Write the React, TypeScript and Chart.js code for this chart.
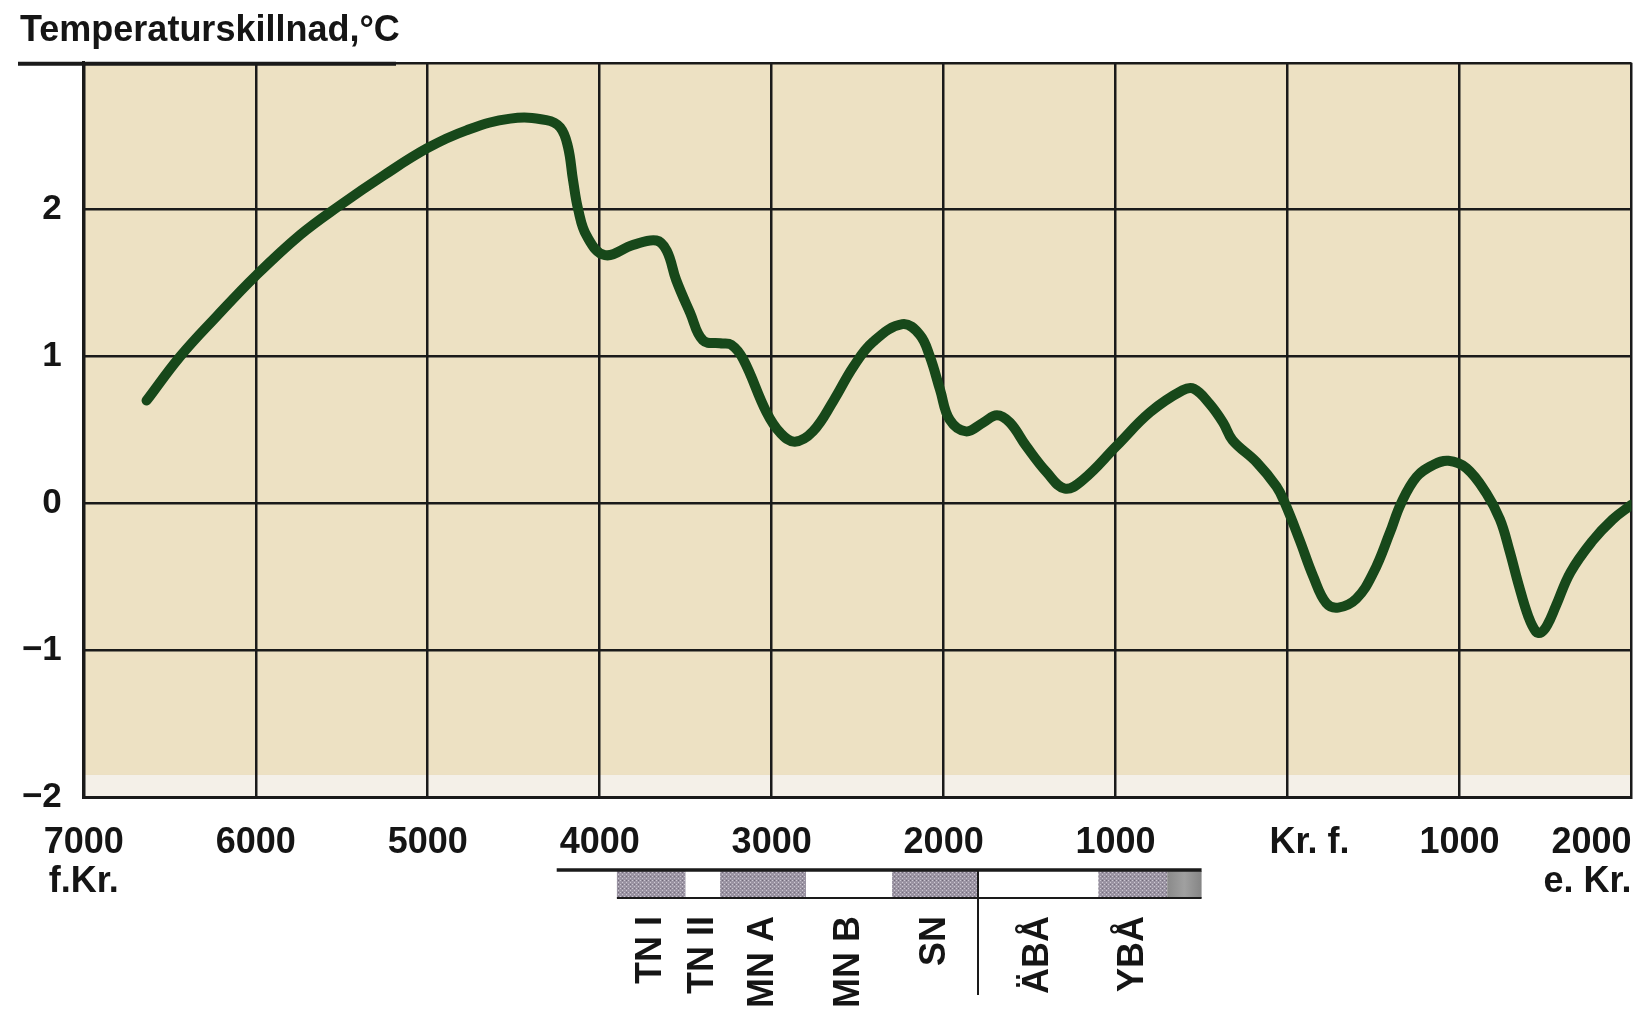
import React, { useEffect, useRef } from 'react';
import { Chart, registerables } from 'chart.js';

Chart.register(...registerables);

// ---------- data ----------
const years = [
  -6635, -6440, -6230, -6000, -5740, -5510, -5260, -5000, -4775, -4520, -4310, -4230, -4185, -4155, -4125,
  -4075, -3970, -3805, -3670, -3610, -3555, -3475, -3400, -3300, -3235, -3165, -3030, -2950, -2865, -2760,
  -2640, -2525, -2410, -2240, -2140, -2080, -2020, -1965, -1870, -1770, -1690, -1615, -1520, -1400, -1295,
  -1190, -995, -800, -610, -545, -455, -375, -320, -180, -65, -15, 70, 150, 225, 295,
  400, 500, 595, 660, 750, 845, 935, 1040, 1155, 1235, 1290, 1345, 1400, 1445, 1475,
  1510, 1560, 1645, 1770, 1890, 2000,
];
const temps = [
  0.70, 1.00, 1.27, 1.55, 1.83, 2.03, 2.23, 2.42, 2.54, 2.62, 2.61, 2.56, 2.43, 2.20, 2.00,
  1.82, 1.69, 1.76, 1.79, 1.72, 1.52, 1.30, 1.11, 1.09, 1.08, 0.98, 0.62, 0.48, 0.42, 0.49,
  0.70, 0.93, 1.10, 1.22, 1.15, 1.00, 0.77, 0.57, 0.49, 0.55, 0.60, 0.55, 0.39, 0.21, 0.10,
  0.16, 0.39, 0.62, 0.77, 0.78, 0.68, 0.55, 0.43, 0.28, 0.115, 0.00, -0.25, -0.50, -0.68, -0.71,
  -0.65, -0.47, -0.20, 0.00, 0.18, 0.26, 0.29, 0.24, 0.07, -0.11, -0.32, -0.56, -0.77, -0.875, -0.88,
  -0.83, -0.70, -0.47, -0.26, -0.11, -0.01,
];

const xTickValues = [-7000, -6000, -5000, -4000, -3000, -2000, -1000, 0, 1000, 2000];
const xTickLabels = ['7000', '6000', '5000', '4000', '3000', '2000', '1000', 'Kr. f.', '1000', '2000'];
const xTickSubLabels = ['f.Kr.', '', '', '', '', '', '', '', '', 'e. Kr.'];
const yTickValues = [-2, -1, 0, 1, 2, 3];
const yTickLabels = ['−2', '−1', '0', '1', '2', ''];
const titleText = 'Temperaturskillnad,°C';

const periodNames = ['TN I', 'TN II', 'MN A', 'MN B', 'SN', 'ÄBÅ', 'YBÅ'];
const periodStarts = [-3900, -3500, -3300, -2800, -2300, -1800, -1100];
const periodEnds = [-3500, -3300, -2800, -2300, -1800, -1100, -700];
const periodShaded = [true, false, true, false, true, false, true];
const periodLineStart = -4250;
const periodTailStart = -700;
const periodTailEnd = -500;
const periodDivider = -1800;

// ---------- styles ----------
const FONT = '"Liberation Sans", Arial, Helvetica, sans-serif';
const BG = '#EDE1C3';
const GRID = '#1a1a1a';
const LINE = '#17481a';
const TEXT = '#151515';

function makePattern(ctx: CanvasRenderingContext2D) {
  const c = document.createElement('canvas');
  c.width = 4;
  c.height = 4;
  const p = c.getContext('2d')!;
  p.fillStyle = '#9a93a2';
  p.fillRect(0, 0, 4, 4);
  p.fillStyle = '#cdc8d2';
  p.fillRect(0, 0, 1, 1);
  p.fillRect(2, 2, 1, 1);
  p.fillStyle = '#746d7c';
  p.fillRect(2, 0, 1, 1);
  return ctx.createPattern(c, 'repeat')!;
}

const decorPlugin = {
  id: 'decor',
  beforeDraw(chart: any) {
    const { ctx, chartArea, scales } = chart;
    const { left, right, top, bottom } = chartArea;
    ctx.save();
    ctx.fillStyle = '#ffffff';
    ctx.fillRect(0, 0, chart.width, chart.height);
    ctx.fillStyle = BG;
    ctx.fillRect(left, top, right - left, bottom - top);
    const yb = scales.y.getPixelForValue(-1.85);
    ctx.fillStyle = 'rgba(244,242,236,0.9)';
    ctx.fillRect(left, yb, right - left, bottom - yb);
    ctx.restore();
  },
  afterDraw(chart: any) {
    const { ctx, chartArea, scales } = chart;
    const { top } = chartArea;
    const x = scales.x;
    ctx.save();

    // title and underline
    ctx.fillStyle = TEXT;
    ctx.font = `bold 36px ${FONT}`;
    ctx.textAlign = 'left';
    ctx.textBaseline = 'alphabetic';
    ctx.fillText(titleText, 20, 41);
    ctx.strokeStyle = GRID;
    ctx.lineWidth = 4;
    ctx.beginPath();
    ctx.moveTo(18, top + 1);
    ctx.lineTo(396, top + 1);
    ctx.stroke();

    // x tick labels
    ctx.font = `bold 36px ${FONT}`;
    xTickValues.forEach((v, i) => {
      let px = x.getPixelForValue(v);
      let align: CanvasTextAlign = 'center';
      if (i === xTickValues.length - 1) align = 'right';
      if (v === 0) px += 22;
      ctx.textAlign = align;
      ctx.fillText(xTickLabels[i], px, 853);
      if (xTickSubLabels[i]) ctx.fillText(xTickSubLabels[i], px, 892);
    });

    // period bar
    const yTop = 871;
    const yBot = 898;
    const pattern = makePattern(ctx);
    periodNames.forEach((name, i) => {
      const x0 = x.getPixelForValue(periodStarts[i]);
      const x1 = x.getPixelForValue(periodEnds[i]);
      ctx.fillStyle = periodShaded[i] ? pattern : '#ffffff';
      ctx.fillRect(x0, yTop, x1 - x0, yBot - yTop);
    });
    const t0 = x.getPixelForValue(periodTailStart);
    const t1 = x.getPixelForValue(periodTailEnd);
    const g = ctx.createLinearGradient(t0, 0, t1, 0);
    g.addColorStop(0, '#8a8a8a');
    g.addColorStop(0.5, '#a0a0a0');
    g.addColorStop(1, '#858585');
    ctx.fillStyle = g;
    ctx.fillRect(t0, yTop, t1 - t0, yBot - yTop);

    ctx.strokeStyle = GRID;
    ctx.lineWidth = 3.5;
    ctx.beginPath();
    ctx.moveTo(x.getPixelForValue(periodLineStart), yTop - 1);
    ctx.lineTo(t1, yTop - 1);
    ctx.stroke();
    ctx.lineWidth = 2;
    ctx.beginPath();
    ctx.moveTo(x.getPixelForValue(periodStarts[0]), yBot);
    ctx.lineTo(t1, yBot);
    ctx.stroke();
    ctx.beginPath();
    const dx = x.getPixelForValue(periodDivider);
    ctx.moveTo(dx, yTop);
    ctx.lineTo(dx, 995);
    ctx.stroke();

    ctx.fillStyle = TEXT;
    ctx.font = `bold 36px ${FONT}`;
    periodNames.forEach((name, i) => {
      const cx = x.getPixelForValue((periodStarts[i] + periodEnds[i]) / 2);
      ctx.save();
      ctx.translate(cx, 916);
      ctx.rotate(-Math.PI / 2);
      ctx.textAlign = 'right';
      ctx.textBaseline = 'middle';
      ctx.fillText(name, 0, 0);
      ctx.restore();
    });

    ctx.restore();
  },
};

export default function App() {
  const ref = useRef<HTMLCanvasElement>(null);
  useEffect(() => {
    if (!ref.current) return;
    const chart = new Chart(ref.current, {
      type: 'line',
      data: {
        datasets: [
          {
            data: years.map((yr, i) => ({ x: yr, y: temps[i] })),
            borderColor: LINE,
            borderWidth: 10,
            pointRadius: 0,
            fill: false,
            tension: 0.4,
            borderCapStyle: 'round',
            borderJoinStyle: 'round',
          },
        ],
      },
      options: {
        responsive: false,
        animation: false,
        layout: { padding: { left: 0, right: 10.5, top: 62.8, bottom: 0 } },
        plugins: { legend: { display: false }, tooltip: { enabled: false }, title: { display: false } },
        scales: {
          x: {
            type: 'linear',
            min: -7000,
            max: 2000,
            afterBuildTicks: (s: any) => {
              s.ticks = xTickValues.map((v) => ({ value: v }));
            },
            ticks: { display: false },
            grid: { color: GRID, lineWidth: 2.5, drawTicks: false },
            border: { display: true, color: GRID, width: 3 },
            afterFit: (s: any) => {
              s.height = 213;
            },
          },
          y: {
            type: 'linear',
            min: -2,
            max: 3,
            afterBuildTicks: (s: any) => {
              s.ticks = yTickValues.map((v) => ({ value: v }));
            },
            ticks: {
              padding: 22,
              color: TEXT,
              font: { family: FONT, size: 35, weight: 'bold' },
              callback: (v: any) => {
                const i = yTickValues.indexOf(Number(v));
                return i >= 0 ? yTickLabels[i] : '';
              },
            },
            grid: { color: GRID, lineWidth: 2.5, drawTicks: false },
            border: { display: true, color: GRID, width: 3 },
            afterFit: (s: any) => {
              s.width = 83.8;
            },
          },
        },
      } as any,
      plugins: [decorPlugin],
    });
    return () => chart.destroy();
  }, []);
  return (
    <div style={{ position: 'absolute', left: 0, top: 0, width: 1642, height: 1010, background: '#fff' }}>
      <canvas ref={ref} width={1642} height={1010} style={{ display: 'block', width: 1642, height: 1010 }} />
    </div>
  );
}
